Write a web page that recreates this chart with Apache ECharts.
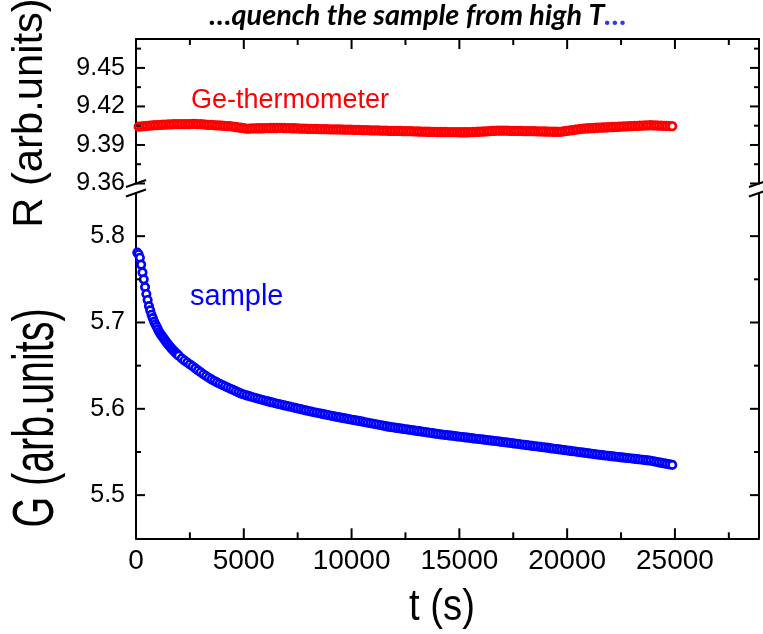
<!DOCTYPE html>
<html>
<head>
<meta charset="utf-8">
<script src="https://cdn.jsdelivr.net/npm/echarts@6/dist/echarts.min.js"></script>
<style>
html,body{margin:0;padding:0;background:#fff;}
#c{width:763px;height:634px;}
</style>
</head>
<body>
<div id="c"></div>
<script>
// ---------------- data ----------------
const titleMain = '…quench the sample from high T';
const titleTail = '…';
const labelR = 'Ge-thermometer';
const labelG = 'sample';
const nameR = 'R (arb.units)';
const nameG = 'G (arb.units)';
const nameT = 't (s)';

// tick values (major ticks carry labels)
const xMajorTicks = [0, 5000, 10000, 15000, 20000, 25000];
const xMinorTicks = [2500, 7500, 12500, 17500, 22500, 27500];
const rMajorTicks = [9.36, 9.39, 9.42, 9.45];
const rMinorTicks = [9.375, 9.405, 9.435, 9.465];
const gMajorTicks = [5.5, 5.6, 5.7, 5.8];
const gMinorTicks = [5.55, 5.65, 5.75];

// time of each R sample (s)
const tR = [
  125,250,375,500,625,750,875,1000,
  1125,1250,1375,1500,1625,1750,1875,2000,
  2125,2250,2375,2500,2625,2750,2875,3000,
  3125,3250,3375,3500,3625,3750,3875,4000,
  4125,4250,4375,4500,4625,4750,4875,5000,
  5125,5250,5375,5500,5625,5750,5875,6000,
  6125,6250,6375,6500,6625,6750,6875,7000,
  7125,7250,7375,7500,7625,7750,7875,8000,
  8125,8250,8375,8500,8625,8750,8875,9000,
  9125,9250,9375,9500,9625,9750,9875,10000,
  10125,10250,10375,10500,10625,10750,10875,11000,
  11125,11250,11375,11500,11625,11750,11875,12000,
  12125,12250,12375,12500,12625,12750,12875,13000,
  13125,13250,13375,13500,13625,13750,13875,14000,
  14125,14250,14375,14500,14625,14750,14875,15000,
  15125,15250,15375,15500,15625,15750,15875,16000,
  16125,16250,16375,16500,16625,16750,16875,17000,
  17125,17250,17375,17500,17625,17750,17875,18000,
  18125,18250,18375,18500,18625,18750,18875,19000,
  19125,19250,19375,19500,19625,19750,19875,20000,
  20125,20250,20375,20500,20625,20750,20875,21000,
  21125,21250,21375,21500,21625,21750,21875,22000,
  22125,22250,22375,22500,22625,22750,22875,23000,
  23125,23250,23375,23500,23625,23750,23875,24000,
  24125,24250,24375,24500,24625,24750,24875
];

// Ge-thermometer resistance R
const rValues = [
  9.4043,9.4045,9.4047,9.4049,9.4050,9.4052,9.4054,9.4055,
  9.4057,9.4059,9.4059,9.4060,9.4060,9.4062,9.4062,9.4062,
  9.4063,9.4063,9.4063,9.4063,9.4064,9.4064,9.4063,9.4062,
  9.4060,9.4059,9.4057,9.4056,9.4054,9.4053,9.4052,9.4050,
  9.4049,9.4047,9.4046,9.4043,9.4040,9.4037,9.4034,9.4031,
  9.4028,9.4028,9.4029,9.4029,9.4030,9.4030,9.4030,9.4031,
  9.4031,9.4032,9.4032,9.4032,9.4033,9.4033,9.4032,9.4031,
  9.4031,9.4030,9.4030,9.4029,9.4028,9.4028,9.4027,9.4026,
  9.4026,9.4025,9.4025,9.4024,9.4024,9.4023,9.4023,9.4022,
  9.4022,9.4021,9.4021,9.4021,9.4020,9.4020,9.4019,9.4019,
  9.4018,9.4017,9.4017,9.4016,9.4016,9.4015,9.4014,9.4014,
  9.4013,9.4013,9.4012,9.4011,9.4011,9.4010,9.4010,9.4009,
  9.4009,9.4009,9.4008,9.4008,9.4007,9.4007,9.4006,9.4006,
  9.4005,9.4004,9.4004,9.4003,9.4003,9.4002,9.4002,9.4001,
  9.4001,9.4001,9.4001,9.4000,9.4000,9.4000,9.4000,9.3999,
  9.3999,9.3999,9.3999,9.4000,9.4001,9.4002,9.4003,9.4004,
  9.4005,9.4006,9.4008,9.4009,9.4010,9.4011,9.4012,9.4012,
  9.4011,9.4011,9.4010,9.4010,9.4010,9.4009,9.4009,9.4008,
  9.4008,9.4008,9.4007,9.4007,9.4006,9.4006,9.4005,9.4005,
  9.4004,9.4004,9.4003,9.4003,9.4002,9.4004,9.4007,9.4010,
  9.4013,9.4016,9.4019,9.4022,9.4025,9.4028,9.4029,9.4030,
  9.4031,9.4032,9.4034,9.4035,9.4036,9.4037,9.4038,9.4039,
  9.4040,9.4041,9.4042,9.4043,9.4044,9.4045,9.4046,9.4047,
  9.4048,9.4049,9.4050,9.4051,9.4052,9.4053,9.4054,9.4053,
  9.4052,9.4051,9.4050,9.4049,9.4048,9.4047,9.4046
];

// time of each G sample (s): denser at the start
const tG = [
  60,120,180,240,300,360,420,480,540,600,660,
  720,780,840,900,960,1020,1080,1140,1200,1260,1320,
  1380,1440,1500,1560,1620,1680,1740,1800,1860,1920,1980,
  2125,2250,2375,2500,2625,2750,2875,3000,
  3125,3250,3375,3500,3625,3750,3875,4000,
  4125,4250,4375,4500,4625,4750,4875,5000,
  5125,5250,5375,5500,5625,5750,5875,6000,
  6125,6250,6375,6500,6625,6750,6875,7000,
  7125,7250,7375,7500,7625,7750,7875,8000,
  8125,8250,8375,8500,8625,8750,8875,9000,
  9125,9250,9375,9500,9625,9750,9875,10000,
  10125,10250,10375,10500,10625,10750,10875,11000,
  11125,11250,11375,11500,11625,11750,11875,12000,
  12125,12250,12375,12500,12625,12750,12875,13000,
  13125,13250,13375,13500,13625,13750,13875,14000,
  14125,14250,14375,14500,14625,14750,14875,15000,
  15125,15250,15375,15500,15625,15750,15875,16000,
  16125,16250,16375,16500,16625,16750,16875,17000,
  17125,17250,17375,17500,17625,17750,17875,18000,
  18125,18250,18375,18500,18625,18750,18875,19000,
  19125,19250,19375,19500,19625,19750,19875,20000,
  20125,20250,20375,20500,20625,20750,20875,21000,
  21125,21250,21375,21500,21625,21750,21875,22000,
  22125,22250,22375,22500,22625,22750,22875,23000,
  23125,23250,23375,23500,23625,23750,23875,24000,
  24125,24250,24375,24500,24625,24750,24875
];

// sample conductance G
const gValues = [
  5.7810,5.7790,5.7750,5.7670,5.7580,5.7500,5.7410,5.7330,5.7260,5.7190,5.7140,
  5.7090,5.7050,5.7010,5.6980,5.6950,5.6920,5.6890,5.6866,5.6845,5.6825,5.6805,
  5.6782,5.6762,5.6743,5.6725,5.6707,5.6690,5.6675,5.6659,5.6644,5.6630,5.6616,
  5.6583,5.6559,5.6536,5.6514,5.6493,5.6469,5.6445,5.6423,
  5.6401,5.6380,5.6360,5.6341,5.6323,5.6307,5.6291,5.6276,
  5.6261,5.6247,5.6233,5.6220,5.6205,5.6190,5.6176,5.6166,
  5.6156,5.6147,5.6137,5.6128,5.6119,5.6111,5.6102,5.6094,
  5.6086,5.6078,5.6070,5.6062,5.6055,5.6047,5.6040,5.6033,
  5.6026,5.6018,5.6011,5.6003,5.5996,5.5989,5.5982,5.5975,
  5.5968,5.5961,5.5954,5.5948,5.5941,5.5935,5.5928,5.5922,
  5.5916,5.5910,5.5904,5.5898,5.5892,5.5886,5.5880,5.5874,
  5.5869,5.5863,5.5857,5.5851,5.5845,5.5839,5.5833,5.5827,
  5.5821,5.5815,5.5809,5.5803,5.5797,5.5791,5.5787,5.5782,
  5.5777,5.5773,5.5768,5.5764,5.5759,5.5754,5.5750,5.5745,
  5.5741,5.5736,5.5732,5.5727,5.5722,5.5718,5.5713,5.5709,
  5.5704,5.5700,5.5696,5.5692,5.5689,5.5685,5.5681,5.5677,
  5.5673,5.5669,5.5666,5.5662,5.5658,5.5654,5.5650,5.5647,
  5.5643,5.5639,5.5635,5.5631,5.5628,5.5624,5.5620,5.5616,
  5.5612,5.5608,5.5604,5.5600,5.5596,5.5592,5.5587,5.5583,
  5.5579,5.5575,5.5571,5.5567,5.5563,5.5559,5.5555,5.5551,
  5.5547,5.5542,5.5538,5.5534,5.5530,5.5526,5.5521,5.5517,
  5.5513,5.5509,5.5505,5.5500,5.5496,5.5492,5.5488,5.5484,
  5.5479,5.5475,5.5471,5.5467,5.5463,5.5459,5.5456,5.5452,
  5.5449,5.5445,5.5442,5.5438,5.5434,5.5431,5.5427,5.5424,
  5.5420,5.5417,5.5413,5.5410,5.5406,5.5403,5.5399,5.5392,
  5.5386,5.5380,5.5374,5.5368,5.5362,5.5356,5.5350
];

// ---------------- chart ----------------
const X_MIN = 0, X_MAX = 28900;
const R_MIN = 9.36, R_MAX = 9.4725;
const G_MIN = 5.45, G_MAX = 5.85;

const W = 763;
const GRID_L = 136, GRID_R = 4;
const TOP_T = 39, TOP_H = 144.5;
const BOT_T = 193, BOT_H = 345.3;

const BLACK = '#000';
const lineSt = { color: BLACK, width: 2 };
const tickFont = "'Liberation Sans', Arial, sans-serif";
const MAJOR_X = 10, MINOR_X = 6, MAJOR_Y = 9, MINOR_Y = 5, TICK_W = 2;

function ax(extra) {
  return Object.assign({
    type: 'value',
    axisLine: { show: true, onZero: false, lineStyle: lineSt },
    axisTick: { show: false },
    axisLabel: { show: false },
    splitLine: { show: false }, minorTick: { show: false }, minorSplitLine: { show: false }
  }, extra);
}

// frame tick marks drawn as rect symbols through the axes' own scales
// dir: 'up' | 'down' | 'right' | 'left' (direction the tick points into the plot)
function tickSeries(xi, yi, pts, len, dir) {
  const horiz = dir === 'left' || dir === 'right';
  const off = len / 2;
  return {
    type: 'scatter', xAxisIndex: xi, yAxisIndex: yi, data: pts,
    symbol: 'rect',
    symbolSize: horiz ? [len, TICK_W] : [TICK_W, len],
    symbolOffset: dir === 'up' ? [0, -off] : dir === 'down' ? [0, off] : dir === 'right' ? [off, 0] : [-off, 0],
    itemStyle: { color: BLACK, borderWidth: 0, opacity: 1 },
    silent: true, clip: false, z: 4, animation: false,
    emphasis: { disabled: true }, tooltip: { show: false }
  };
}

const option = {
  animation: false,
  backgroundColor: '#fff',
  grid: [
    { left: GRID_L, right: GRID_R, top: TOP_T, height: TOP_H },
    { left: GRID_L, right: GRID_R, top: BOT_T, height: BOT_H }
  ],
  xAxis: [
    ax({ gridIndex: 1, position: 'bottom', min: X_MIN, max: X_MAX, interval: 5000,
      axisLabel: { show: true, color: BLACK, fontSize: 28, fontFamily: tickFont, margin: 9,
        customValues: xMajorTicks, formatter: v => String(Math.round(v)) } }),
    ax({ gridIndex: 0, position: 'top', min: X_MIN, max: X_MAX, interval: 5000 })
  ],
  yAxis: [
    ax({ gridIndex: 0, position: 'left', min: R_MIN, max: R_MAX, interval: 0.03,
      axisLabel: { show: true, color: BLACK, fontSize: 25, fontFamily: tickFont, margin: 11,
        customValues: rMajorTicks, formatter: v => Number(v).toFixed(2) } }),
    ax({ gridIndex: 0, position: 'right', min: R_MIN, max: R_MAX, interval: 0.03 }),
    ax({ gridIndex: 1, position: 'left', min: G_MIN, max: G_MAX, splitNumber: 4,
      axisLabel: { show: true, color: BLACK, fontSize: 25, fontFamily: tickFont, margin: 11,
        customValues: gMajorTicks, formatter: v => Number(v).toFixed(1) } }),
    ax({ gridIndex: 1, position: 'right', min: G_MIN, max: G_MAX, splitNumber: 4 })
  ],
  series: [
    {
      name: 'R', type: 'scatter', xAxisIndex: 1, yAxisIndex: 0,
      data: tR.map((t, i) => [t, rValues[i]]),
      symbol: 'circle', symbolSize: 7.5,
      itemStyle: { color: '#fff', borderColor: '#ff0000', borderWidth: 2.8, opacity: 1 },
      emphasis: { disabled: true }, large: false
    },
    {
      name: 'G', type: 'scatter', xAxisIndex: 0, yAxisIndex: 2,
      data: tG.map((t, i) => [t, gValues[i]]),
      symbol: 'circle', symbolSize: 7.5,
      itemStyle: { color: '#fff', borderColor: '#0000ff', borderWidth: 2.6, opacity: 1 },
      emphasis: { disabled: true }, large: false
    },
    // bottom frame (G panel), ticks pointing up
    tickSeries(0, 2, xMajorTicks.map(v => [v, G_MIN]), MAJOR_X, 'up'),
    tickSeries(0, 2, xMinorTicks.map(v => [v, G_MIN]), MINOR_X, 'up'),
    // top frame (R panel), ticks pointing down
    tickSeries(1, 0, xMajorTicks.map(v => [v, R_MAX]), MAJOR_X, 'down'),
    tickSeries(1, 0, xMinorTicks.map(v => [v, R_MAX]), MINOR_X, 'down'),
    // R panel left / right
    tickSeries(1, 0, rMajorTicks.map(v => [X_MIN, v]), MAJOR_Y, 'right'),
    tickSeries(1, 0, rMinorTicks.map(v => [X_MIN, v]), MINOR_Y, 'right'),
    tickSeries(1, 0, rMajorTicks.map(v => [X_MAX, v]), MAJOR_Y, 'left'),
    tickSeries(1, 0, rMinorTicks.map(v => [X_MAX, v]), MINOR_Y, 'left'),
    // G panel left / right
    tickSeries(0, 2, gMajorTicks.map(v => [X_MIN, v]), MAJOR_Y, 'right'),
    tickSeries(0, 2, gMinorTicks.map(v => [X_MIN, v]), MINOR_Y, 'right'),
    tickSeries(0, 2, gMajorTicks.map(v => [X_MAX, v]), MAJOR_Y, 'left'),
    tickSeries(0, 2, gMinorTicks.map(v => [X_MAX, v]), MINOR_Y, 'left')
  ],
  graphic: []
};

function breakMark(x, y) {
  return { type: 'line', silent: true, z: 100,
    shape: { x1: x - 10, y1: y + 3.5, x2: x + 10, y2: y - 3.5 },
    style: { stroke: BLACK, lineWidth: 2 } };
}
const xr = W - GRID_R;
option.graphic.push(
  breakMark(GRID_L, TOP_T + TOP_H), breakMark(GRID_L, BOT_T),
  breakMark(xr, TOP_T + TOP_H), breakMark(xr, BOT_T),
  { type: 'text', x: 418, y: 16, silent: true, scaleX: 1.03,
    style: {
      text: '{a|' + titleMain + '}{b|' + titleTail + '}',
      align: 'center', verticalAlign: 'middle',
      rich: {
        a: { fontFamily: 'Lato, sans-serif', fontWeight: 'bold', fontStyle: 'italic', fontSize: 28, fill: BLACK, color: BLACK },
        b: { fontFamily: 'Lato, sans-serif', fontWeight: 'bold', fontStyle: 'italic', fontSize: 28, fill: '#3333ff', color: '#3333ff' }
      }
    } },
  { type: 'text', x: 191, y: 101, silent: true,
    style: { text: labelR, fill: '#ff0000', fontSize: 27, fontFamily: tickFont, verticalAlign: 'middle' } },
  { type: 'text', x: 190, y: 297, silent: true,
    style: { text: labelG, fill: '#0000ff', fontSize: 29, fontFamily: tickFont, verticalAlign: 'middle' } },
  { type: 'text', x: 30, y: 113, rotation: Math.PI / 2, scaleX: 0.97, silent: true,
    style: { text: nameR, fill: BLACK, fontSize: 43, fontFamily: tickFont, align: 'center', verticalAlign: 'middle' } },
  { type: 'text', x: 37, y: 418, rotation: Math.PI / 2, scaleX: 0.68, silent: true,
    style: { text: nameG, fill: BLACK, fontSize: 58, fontFamily: tickFont, align: 'center', verticalAlign: 'middle' } },
  { type: 'text', x: 442, y: 608, scaleX: 0.85, silent: true,
    style: { text: nameT, fill: BLACK, fontSize: 45, fontFamily: tickFont, align: 'center', verticalAlign: 'middle' } }
);

const chart = echarts.init(document.getElementById('c'), null, { renderer: 'canvas' });
chart.setOption(option);
</script>
</body>
</html>
